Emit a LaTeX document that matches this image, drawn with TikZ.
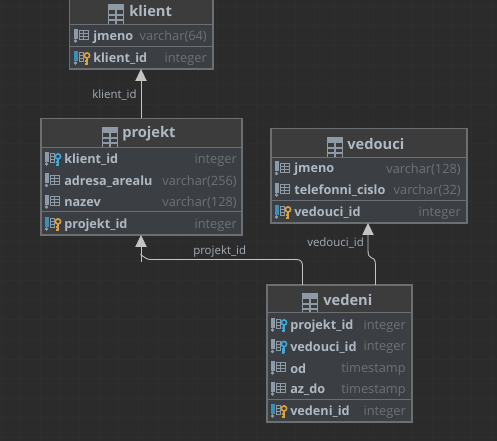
\documentclass[tikz,border=0pt]{standalone}
\usepackage{fontspec}
\setmainfont{Open Sans}
\usetikzlibrary{arrows.meta}
\definecolor{bgc}{HTML}{2B2B2B}
\definecolor{gridc}{HTML}{2E2E2E}
\definecolor{bodyc}{HTML}{3B3F43}
\definecolor{headc}{HTML}{3C3C3C}
\definecolor{borderc}{HTML}{6C6F71}
\definecolor{namec}{HTML}{AEB9C4}
\definecolor{typec}{HTML}{6E7275}
\definecolor{labelc}{HTML}{A3ADB8}
\definecolor{iconc}{HTML}{8E9BA6}
\definecolor{bluec}{HTML}{3FA9DC}
\definecolor{goldc}{HTML}{DDA23B}
\definecolor{pkc}{HTML}{3D8DB5}
\definecolor{connc}{HTML}{C4C4C4}
\tikzset{
  dbbox/.style={fill=bodyc,inner sep=0pt,outer sep=0pt,anchor=north west},
  border/.style={draw=borderc,line width=0.9pt},
  rowname/.style={anchor=west,inner sep=0pt,text=namec,yshift=-0.8pt,font=\fontsize{9.5}{11}\selectfont\bfseries},
  rowtype/.style={anchor=east,inner sep=0pt,text=typec,yshift=-0.8pt,font=\fontsize{9.6}{11}\selectfont},
  title/.style={anchor=west,inner sep=0pt,text=namec,yshift=-0.6pt,font=\fontsize{11}{13}\selectfont\bfseries},
  edgelabel/.style={anchor=west,inner sep=0pt,text=labelc,yshift=-0.6pt,font=\fontsize{8.6}{10}\selectfont},
  conn/.style={draw=connc,line width=0.65pt},
  arrowed/.style={conn,-{Triangle[length=9pt,width=8.5pt,fill=connc]}}
}
% box: name x1 y1 x2 y2 headerbottom divider
\newcommand\dbbox[7]{%
  \node[dbbox,minimum width={(#4-#2)*0.75pt},minimum height={(#5-#3)*0.75pt}] (#1) at (#2,#3) {};
  \fill[headc] (#2,#3) rectangle (#4,#6);
  \draw[border,line width=0.7pt] (#2,#6) -- (#4,#6);
  \draw[border,line width=0.7pt] (#2,#7) -- (#4,#7);
  \draw[border] (#1.north west) rectangle (#1.south east);
}
% column glyph at x,y (centre-line of the row)
\newcommand\colglyph[3]{% x y barcolour
  \fill[#3] (#1,#2-7) rectangle (#1+4,#2+3);
  \fill[iconc] (#1+1.5,#2+5) circle (1.8);
  \draw[iconc,line width=0.55pt] (#1+5,#2-5.5) rectangle (#1+14,#2+3.5)
     (#1+5,#2-2.5) -- (#1+14,#2-2.5) (#1+5,#2+0.5) -- (#1+14,#2+0.5) (#1+9.5,#2-5.5) -- (#1+9.5,#2+3.5);
}
\newcommand\keyglyph[3]{% x y colour
  \fill[bodyc] (#1+9.5,#2-6) rectangle (#1+16.5,#2+7);
  \draw[#3,line width=1.2pt] (#1+13,#2-2.5) circle (2.6);
  \draw[#3,line width=1.6pt] (#1+13,#2) -- (#1+13,#2+7) (#1+13,#2+3) -- (#1+10.5,#2+3) (#1+13,#2+6) -- (#1+11,#2+6);
}
% row: iconx textx typex y kind name type
\newcommand\plainrow[7]{\colglyph{#1}{#4}{iconc}\node[rowname] (#5) at (#2,#4) {#6};\node[rowtype] (#5t) at (#3,#4) {#7};}
\newcommand\fkrow[7]{\colglyph{#1}{#4}{iconc}\keyglyph{#1}{#4}{bluec}\node[rowname] (#5) at (#2,#4) {#6};\node[rowtype] (#5t) at (#3,#4) {#7};}
\newcommand\pkrow[7]{\colglyph{#1}{#4}{pkc}\keyglyph{#1}{#4}{goldc}\node[rowname] (#5) at (#2,#4) {#6};\node[rowtype] (#5t) at (#3,#4) {#7};}
% header: iconx icontop bottom textx name
\newcommand\headrow[5]{%
  \begin{scope}
    \clip (#1-1,#2-1) rectangle (#1+17,#3);
    \fill[iconc] (#1,#2) rectangle (#1+16,#2+5.5);
    \draw[iconc,line width=0.9pt] (#1+.4,#2) rectangle (#1+15.6,#3+3)
      (#1,#2+10) -- (#1+16,#2+10) (#1,#2+15) -- (#1+16,#2+15) (#1+8,#2) -- (#1+8,#3+3);
  \end{scope}
  \node[title] (#5t) at (#4,#2+5) {#5};
}
\begin{document}
\begin{tikzpicture}[x=0.75pt,y=-0.75pt]
\useasboundingbox (0,0) rectangle (497,441);
\clip (0,0) rectangle (497,441);
\fill[bgc] (0,0) rectangle (497,441);
\foreach \g in {0,1,...,25} {\draw[gridc,line width=0.4pt] (\g*19.6+1,0) -- (\g*19.6+1,441);}
\foreach \g in {0,1,...,22} {\draw[gridc,line width=0.4pt] (0,\g*19.6+6) -- (497,\g*19.6+6);}

% klient
\dbbox{klient}{69.5}{-12}{213}{69}{24}{46}
\headrow{108}{5}{24}{129}{klient}
\plainrow{74}{93}{207}{36}{kjmeno}{jmeno}{varchar(64)}
\pkrow{74}{93}{207}{58}{kid}{klient\_id}{integer}

% projekt
\dbbox{projekt}{41}{118.5}{242}{235}{147}{211}
\headrow{102}{128}{147}{122}{projekt}
\fkrow{45}{64}{237}{159}{pklient}{klient\_id}{integer}
\plainrow{45}{64}{237}{180.5}{padresa}{adresa\_arealu}{varchar(256)}
\plainrow{45}{64}{237}{202}{pnazev}{nazev}{varchar(128)}
\pkrow{45}{64}{237}{224}{pid}{projekt\_id}{integer}

% vedouci
\dbbox{vedouci}{271}{128.5}{467}{223}{157}{200.5}
\headrow{327}{138}{157}{347}{vedouci}
\plainrow{275}{294}{461}{168.5}{vjmeno}{jmeno}{varchar(128)}
\plainrow{275}{294}{461}{190}{vtel}{telefonni\_cislo}{varchar(32)}
\pkrow{275}{294}{461}{212}{vid}{vedouci\_id}{integer}

% vedeni
\dbbox{vedeni}{267}{285}{412}{422}{312}{399}
\headrow{302}{294}{312}{323}{vedeni}
\fkrow{271}{290}{406}{325}{eprojekt}{projekt\_id}{integer}
\fkrow{271}{290}{406}{346.5}{evedouci}{vedouci\_id}{integer}
\plainrow{271}{290}{406}{368}{eod}{od}{timestamp}
\plainrow{271}{290}{406}{389}{eaz}{az\_do}{timestamp}
\pkrow{271}{290}{406}{411}{eid}{vedeni\_id}{integer}

% connector ends
\coordinate (k1) at (141,0 |- projekt.north);
\coordinate (k2) at (141,0 |- klient.south);
\coordinate (p2) at (141,0 |- projekt.south);
\coordinate (p1) at (141,262);
\coordinate (e1) at (302.5,0 |- vedeni.north);
\coordinate (e2) at (375.5,0 |- vedeni.north);
\coordinate (v2) at (368,0 |- vedouci.south);

\draw[arrowed] (k1) -- (k2);
\draw[arrowed] (p1) -- (p2);
\draw[conn] (e1) -- (302.5,266) .. controls (302.5,261) and (300,259.5) .. (296,259.5)
   -- (150,259.5) .. controls (147,259.5) and (144,257) .. (140.5,254.5);
\draw[arrowed] (e2) -- (375.5,265) .. controls (375.5,259) and (373,258) .. (371,257.5)
   .. controls (369,257) and (368,255) .. (368,250) -- (v2);

\node[edgelabel] (lk) at (92,94) {klient\_id};
\node[edgelabel] (lp) at (193,251) {projekt\_id};
\node[edgelabel] (lv) at (307,242) {vedouci\_id};
\end{tikzpicture}
\end{document}
